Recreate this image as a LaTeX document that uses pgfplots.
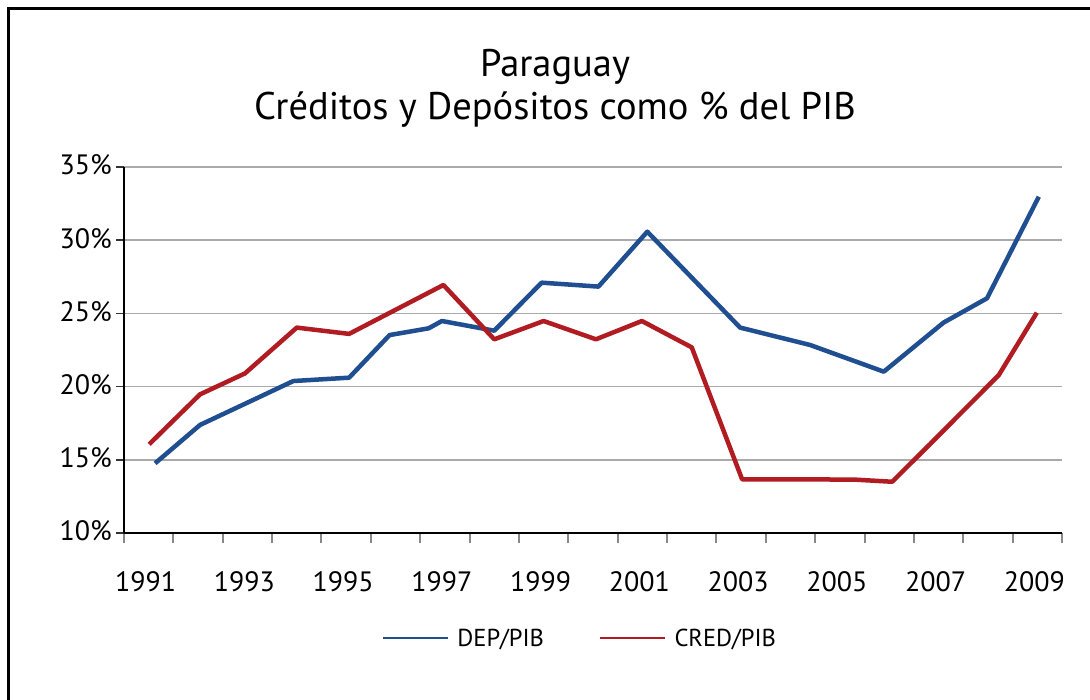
\documentclass[border=0pt]{standalone}
\usepackage{fontspec}
\setmainfont{PT Sans}
\usepackage{pgfplots}
\pgfplotsset{compat=1.18}
\definecolor{depblue}{RGB}{31,78,145}
\definecolor{credred}{RGB}{176,28,34}
\definecolor{gridgray}{RGB}{170,170,170}
\begin{document}
\begin{tikzpicture}
\path[use as bounding box] (0,0) rectangle (1090bp,700bp);
\fill[white] (0,0) rectangle (1090bp,700bp);
\draw[line width=3bp] (8.3bp,0) -- (8.3bp,691bp) -- (1090bp,691bp);
\node[anchor=base, inner sep=0pt, font=\fontsize{38.5bp}{45bp}\selectfont] at (555bp,623bp) {Paraguay};
\node[anchor=base, inner sep=0pt, font=\fontsize{38.5bp}{45bp}\selectfont] at (555bp,580bp) {Créditos y Depósitos como \% del PIB};
\begin{axis}[
  at={(124bp,167bp)}, anchor=south west,
  scale only axis, width=938bp, height=366bp,
  xmin=-0.5, xmax=18.5, ymin=10, ymax=35,
  axis lines*=left,
  axis line style={line width=2.7bp, black},
  xtick={0,2,...,18},
  xticklabels={1991,1993,1995,1997,1999,2001,2003,2005,2007,2009},
  minor xtick={-0.5,0.5,...,18.5},
  ytick={10,15,...,35},
  yticklabels={10\%,15\%,20\%,25\%,30\%,35\%},
  major tick length=8bp, minor tick length=10bp,
  tick align=outside,
  major x tick style={draw=none},
  minor x tick style={gridgray!80!black, line width=2bp},
  major y tick style={black!80, line width=1.5bp},
  ymajorgrids, major grid style={gridgray, line width=1.5bp},
  tick label style={font=\fontsize{28bp}{30bp}\selectfont},
  xticklabel style={anchor=base, yshift=-50bp, xshift=-3bp},
  yticklabel style={inner sep=0pt, xshift=-4bp, yshift=2bp},
  legend style={draw=none, fill=none, at={(axis description cs:0.2747,-0.287)}, anchor=west,
    inner sep=0pt, font=\fontsize{24.5bp}{26bp}\selectfont,
    /tikz/every odd column/.append style={column sep=6bp},
    /tikz/every even column/.append style={column sep=53bp}},
  legend columns=2,
  legend image code/.code={\draw[#1, line width=2.5bp] (0bp,0bp) -- (65bp,0bp);},
]
\addplot[depblue, line width=4.5bp, line join=round] table {
0.13 14.76
1.04 17.38
2.93 20.38
4.06 20.61
4.88 23.52
5.67 23.98
5.94 24.48
7.00 23.82
7.96 27.10
9.11 26.83
10.10 30.58
11.98 24.03
13.40 22.84
14.89 21.02
16.10 24.37
16.98 26.03
18.03 32.97
};
\addlegendentry{DEP/PIB}
\addplot[credred, line width=4.5bp, line join=round] table {
0.01 16.06
1.04 19.47
1.95 20.90
3.00 24.03
4.06 23.60
5.97 26.94
7.00 23.23
8.00 24.48
9.06 23.23
9.99 24.48
11.00 22.68
12.02 13.67
14.28 13.65
15.06 13.50
15.83 16.08
17.22 20.79
17.99 25.05
};
\addlegendentry{CRED/PIB}
\end{axis}
\end{tikzpicture}
\end{document}
